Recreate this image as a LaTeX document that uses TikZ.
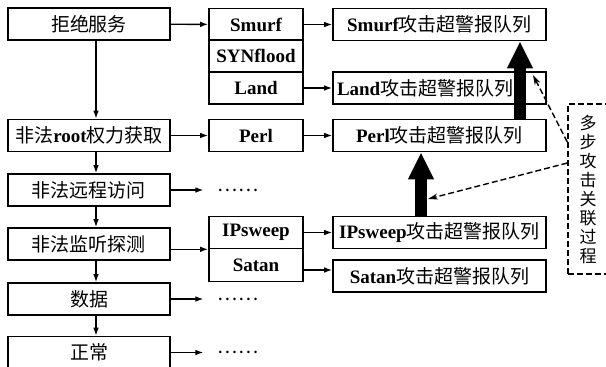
\documentclass[tikz,border=0pt]{standalone}
\usepackage{fontspec}
\setmainfont{Liberation Serif}
\newfontfamily\cjk{Noto Sans CJK SC}
\usetikzlibrary{arrows.meta}
\newcommand\zh[1]{{\cjk\mdseries #1}}

\tikzset{
  box/.style={draw, line width=0.8pt, inner sep=0pt, minimum height=16pt,
    font=\bfseries\fontsize{9.5}{11}\selectfont},
  kind/.style={box, minimum width=81pt},
  attack/.style={box, minimum width=47pt},
  queue/.style={box, minimum width=106.5pt},
  more/.style={inner xsep=7pt, inner ysep=0pt, font=\fontsize{9.5}{11}\selectfont},
  arr/.style={line width=0.7pt, -{Latex[length=4pt,width=2.8pt]}},
  fat/.style={line width=6pt, -{Triangle[length=13.5pt,width=12pt]}},
  link/.style={dashed, dash pattern=on 3pt off 1.5pt, line width=0.7pt, -{Stealth[length=5pt,width=3pt]}}
}

\begin{document}
\begin{tikzpicture}[x=0.5pt,y=-0.5pt]
\useasboundingbox (0,0) rectangle (606,366);
% attack classes
\node[kind] (dos) at (89,24) {\zh{拒绝服务}};
\node[kind] (root) at (89,135.5) {\zh{非法}root\zh{权力获取}};
\node[kind] (remote) at (89,190) {\zh{非法远程访问}};
\node[kind] (monitor) at (89,244) {\zh{非法监听探测}};
\node[kind] (data) at (89,299) {\zh{数据}};
\node[kind] (normal) at (89,352.5) {\zh{正常}};
\coordinate (spine) at (96,0);
\foreach \a/\b in {dos/root,root/remote,remote/monitor,monitor/data,data/normal}
  \draw[arr] (\a.south -| spine) -- (\b.north -| spine);
% attack types
\node[attack] (smurf) at (256,24.5) {Smurf};
\node[attack] (synflood) at (256,56) {SYNflood};
\node[attack] (land) at (256,88) {Land};
\node[attack] (perl) at (256,135.5) {Perl};
\node[attack] (ipsweep) at (256,232.5) {IPsweep};
\node[attack, minimum height=16.5pt] (satan) at (256,265) {Satan};
\node[more] (d1) at (238,190) {\zh{……}};
\node[more] (d2) at (238,299) {\zh{……}};
\node[more] (d3) at (238,352.5) {\zh{……}};
\draw[arr] (dos) -- (smurf);
\draw[arr] (root) -- (perl);
\draw[arr] (remote) -- (d1);
\draw[arr] (monitor.east |- ipsweep.south west) -- (ipsweep.south west);
\draw[arr] (data) -- (d2);
\draw[arr] (normal) -- (d3);
% hyper-alert queues
\node[queue] (smurfq) at (439.5,24.5) {Smurf\zh{攻击超警报队列}};
\node[queue, text width=102.5pt, inner xsep=2pt, align=left] (landq) at (439.5,88)
  {Land\zh{攻击超警报队列}};
\node[queue] (perlq) at (439.5,135.5) {Perl\zh{攻击超警报队列}};
\node[queue] (ipq) at (439.5,232.5) {IPsweep\zh{攻击超警报队列}};
\node[queue] (satanq) at (439.5,276) {Satan\zh{攻击超警报队列}};
\draw[arr] (smurf) -- (smurfq);
\draw[arr] (land) -- (landq);
\draw[arr] (perl) -- (perlq);
\draw[arr] (ipsweep) -- (ipq);
\draw[arr] ([yshift=-2.5pt]satan.east) coordinate (s1) -- (s1 -| satanq.west);
% multi-step correlation
\coordinate (ua) at (520,0);
\coordinate (ub) at (421,0);
\draw[fat] (perlq.north -| ua) -- (smurfq.south -| ua);
\draw[fat] (ipq.north -| ub) -- (perlq.south -| ub);
\node[draw, dashed, dash pattern=on 3pt off 1.5pt, line width=0.7pt, inner sep=0pt,
  minimum width=20pt, minimum height=85pt, align=center,
  font=\cjk\fontsize{8.5}{9.5}\selectfont] (multi) at (588,189)
  {多\\步\\攻\\击\\关\\联\\过\\程};
\coordinate (tipa) at (533,75);
\coordinate (tipb) at (428,199);
\draw[link] ([yshift=23.5pt]multi.west) -- (tipa);
\draw[link] ([yshift=13pt]multi.west) -- (tipb);
\end{tikzpicture}
\end{document}
